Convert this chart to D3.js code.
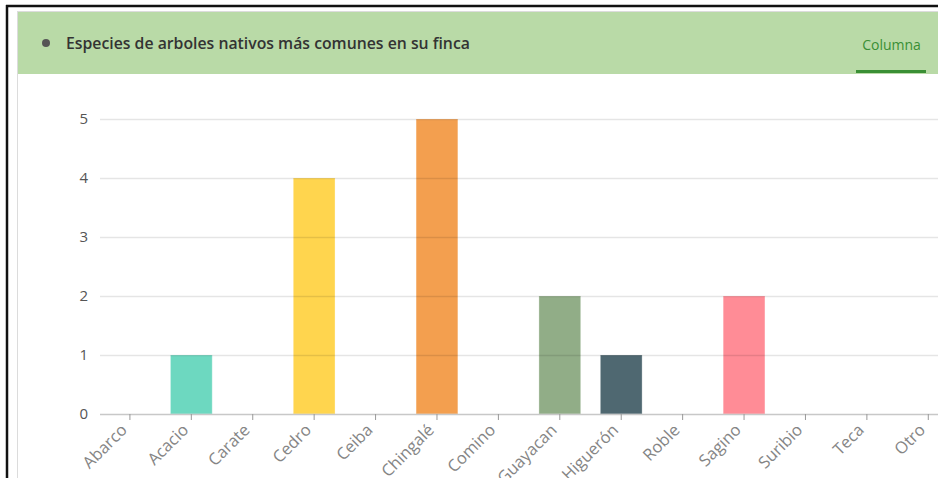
<!DOCTYPE html>
<html>
<head>
<meta charset="utf-8">
<script src="https://cdn.jsdelivr.net/npm/d3@7"></script>
<style>
  html, body { margin: 0; padding: 0; background: #fff; overflow: hidden; }
  svg { display: block; }
</style>
</head>
<body>
<svg id="chart" width="938" height="478"></svg>
<script>
// Species and counts
const categories = ["Abarco", "Acacio", "Carate", "Cedro", "Ceiba", "Chingalé", "Comino",
                    "Guayacan", "Higuerón", "Roble", "Sagino", "Suribio", "Teca", "Otro"];
const counts = [0, 1, 0, 4, 0, 5, 0, 2, 1, 0, 2, 0, 0, 0];
const barColors = ["#6dd8c0", "#6dd8c0", "#ffd54e", "#ffd54e", "#f39f4f", "#f39f4f", "#91ad87",
                   "#91ad87", "#4f6871", "#4f6871", "#ff8c96", "#ff8c96", "#aaaaaa", "#aaaaaa"];
const yTicks = [0, 1, 2, 3, 4, 5];
const title = "Especies de arboles nativos más comunes en su finca";
const tabLabel = "Columna";

const svg = d3.select("#chart");
const W = 938, H = 478;
const FONT = "'Open Sans', sans-serif";

// Outer frame
svg.append("rect").attr("x", 0).attr("y", 0).attr("width", W).attr("height", H).attr("fill", "#fff");
svg.append("line").attr("x1", 6).attr("x2", W).attr("y1", 6).attr("y2", 6)
  .attr("stroke", "#111").attr("stroke-width", 2.5);
svg.append("line").attr("x1", 7).attr("x2", 7).attr("y1", 5).attr("y2", H)
  .attr("stroke", "#111").attr("stroke-width", 2.5);

// Panel border
svg.append("line").attr("x1", 17.5).attr("x2", 17.5).attr("y1", 12).attr("y2", H)
  .attr("stroke", "#dcdcdc").attr("stroke-width", 1);
svg.append("line").attr("x1", 17).attr("x2", W).attr("y1", 11.5).attr("y2", 11.5)
  .attr("stroke", "#dcdcdc").attr("stroke-width", 1);

// Header band
svg.append("rect").attr("x", 18).attr("y", 12).attr("width", W - 18).attr("height", 62)
  .attr("fill", "#b9daa7");
svg.append("circle").attr("cx", 46).attr("cy", 43).attr("r", 4).attr("fill", "#555");
svg.append("text").attr("x", 66).attr("y", 48.5)
  .attr("font-family", FONT).attr("font-size", 15.8).attr("font-weight", 600)
  .attr("fill", "#333").text(title);
svg.append("text").attr("x", 891.5).attr("y", 50).attr("text-anchor", "middle")
  .attr("font-family", FONT).attr("font-size", 14)
  .attr("fill", "#3a8f35").text(tabLabel);
svg.append("rect").attr("x", 856).attr("y", 70).attr("width", 70).attr("height", 3)
  .attr("fill", "#3a8f35");

// Scales
const x = d3.scaleBand().domain(categories).range([99.2, 959])
  .paddingInner(0.32).paddingOuter(0.16);
const y = d3.scaleLinear().domain([0, 5]).range([414, 119]);

const plot = svg.append("g");

// Y labels
plot.append("g").selectAll("text").data(yTicks).join("text")
  .attr("x", 88).attr("y", d => y(d)).attr("dy", "0.36em").attr("text-anchor", "end")
  .attr("font-family", FONT).attr("font-size", 15)
  .attr("fill", "#555").text(d => d);

// Bars
plot.append("g").selectAll("rect").data(categories).join("rect")
  .attr("x", d => x(d))
  .attr("y", (d, i) => y(counts[i]))
  .attr("width", x.bandwidth())
  .attr("height", (d, i) => y(0) - y(counts[i]))
  .attr("fill", (d, i) => barColors[i])
  .attr("stroke", "#ffffff").attr("stroke-opacity", 0.3).attr("stroke-width", 1);

// Horizontal grid, drawn over the bars with a translucent stroke
plot.append("g").selectAll("line").data(yTicks.filter(d => d > 0)).join("line")
  .attr("x1", 100).attr("x2", W)
  .attr("y1", d => y(d) + 0.5).attr("y2", d => y(d) + 0.5)
  .attr("stroke", "#000").attr("stroke-opacity", 0.1).attr("stroke-width", 1.5);

// X axis
const xAxis = plot.append("g").attr("transform", `translate(0,${y(0)})`)
  .call(d3.axisBottom(x).tickSize(6).tickSizeOuter(0));
xAxis.select(".domain").remove();
xAxis.insert("line", ":first-child").attr("x1", 100).attr("x2", W).attr("y1", 0.5).attr("y2", 0.5)
  .attr("stroke", "#c8c8c8").attr("stroke-width", 1.5);
xAxis.selectAll(".tick line").attr("stroke", "#999").attr("y1", 0).attr("y2", 6);
xAxis.selectAll(".tick text")
  .attr("font-family", FONT).attr("font-size", 16.5).attr("fill", "#858585")
  .attr("text-anchor", "end")
  .attr("x", 0).attr("y", 0).attr("dx", 0).attr("dy", "0.35em")
  .attr("transform", "translate(-6,13) rotate(-45)");
</script>
</body>
</html>
